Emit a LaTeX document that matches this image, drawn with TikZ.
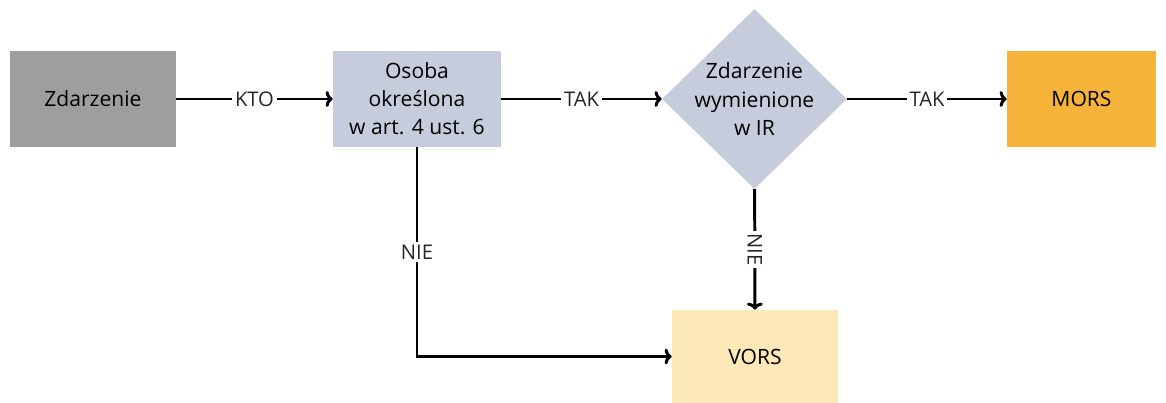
\documentclass[tikz,border=0pt]{standalone}
\usepackage{fontspec}
\setmainfont{Open Sans}
\usepackage{tikz}
\usetikzlibrary{arrows,arrows.meta,shapes.geometric}

\definecolor{szary}{HTML}{9E9E9E}
\definecolor{niebieski}{HTML}{C6CCDC}
\definecolor{pomarancz}{HTML}{F6B33A}
\definecolor{zolty}{HTML}{FDE8B8}

\tikzset{
  box/.style={rectangle, inner sep=0pt, align=center, font=\fontsize{12}{16}\selectfont},
  strz/.style={-{To[length=4pt,width=9pt,line width=1.7pt]}, line width=1.7pt},
  opis/.style={fill=white, inner sep=1.5pt, font=\fontsize{11.5}{13}\selectfont, text=black!85}
}

\begin{document}
\begin{tikzpicture}
\useasboundingbox (0,0) rectangle (23.32,-8.06);

\draw (1.86,-1.98)  node (zd)   [box, fill=szary, minimum width=3.32cm, minimum height=1.92cm] {Zdarzenie};
\draw (8.34,-1.98)  node (os)   [box, fill=niebieski, minimum width=3.36cm, minimum height=1.92cm] {Osoba\\określona\\w art. 4 ust. 6};
\draw (15.09,-1.98) node (ir)   [diamond, shape aspect=1, fill=niebieski, inner sep=0pt, minimum width=3.7cm, minimum height=3.6cm,
  label={[box]center:Zdarzenie\\wymienione\\w IR}] {};
\draw (21.63,-1.98) node (mors) [box, fill=pomarancz, minimum width=2.98cm, minimum height=1.92cm] {MORS};
\draw (15.1,-7.13)  node (vors) [box, fill=zolty, minimum width=3.32cm, minimum height=1.86cm] {VORS};

\draw[strz] (zd) -- node[opis] {KTO} (os);
\draw[strz] (os) -- node[opis] {TAK} (ir);
\draw[strz] (ir) -- node[opis] {TAK} (mors);
\draw[strz] (ir) -- node[opis, rotate=-90] {NIE} (vors);
\draw[strz] (os.south) |- node[opis, pos=0.25] {NIE} (vors.west);

\end{tikzpicture}
\end{document}
